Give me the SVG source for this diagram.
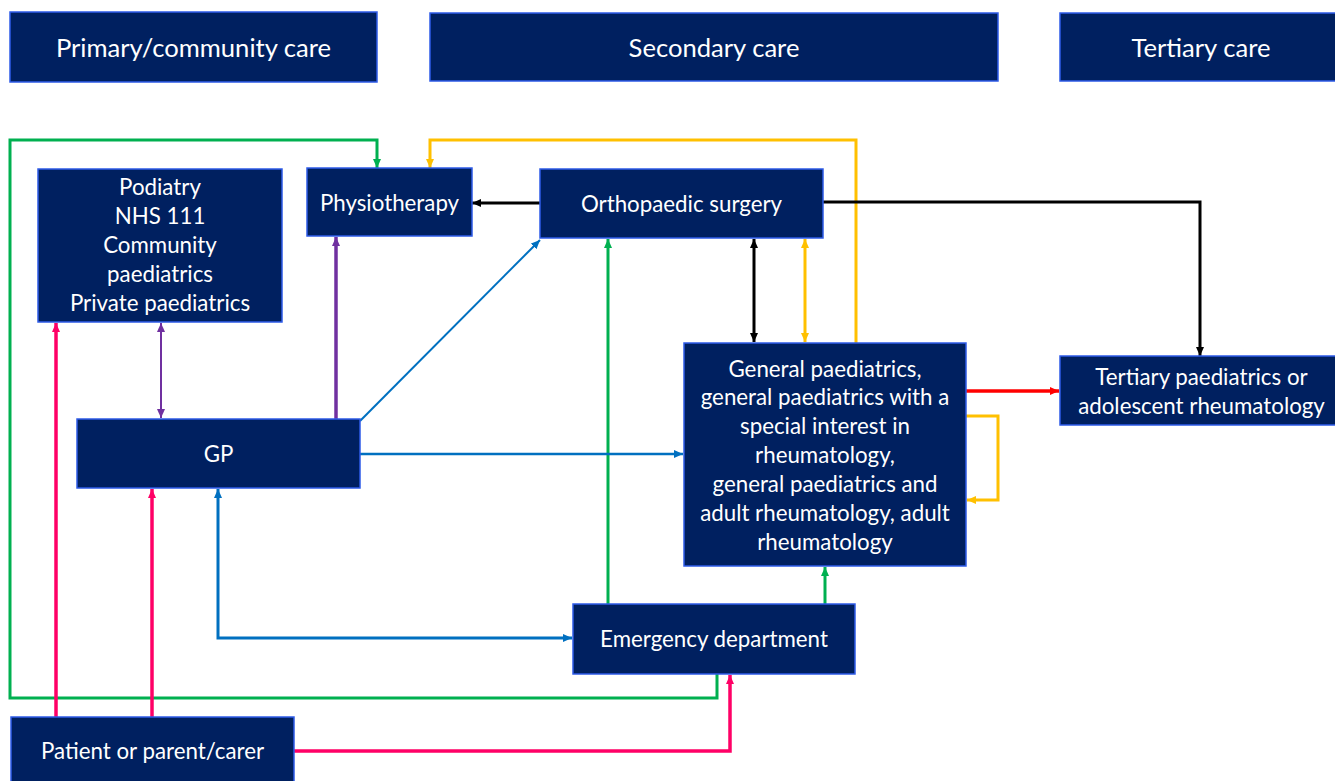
<svg xmlns="http://www.w3.org/2000/svg" width="1335" height="781" viewBox="0 0 1335 781">
<style>
.box{fill:#002060;stroke:#2E5BE8;stroke-width:1.5}
.t{font-family:Lato,"Liberation Sans",sans-serif;font-size:22.3px;fill:#FFFFFF;text-anchor:middle}
.h{font-size:25.6px}
.c{fill:none;stroke-linejoin:miter}
.g{stroke:#00B050;stroke-width:3}
.y{stroke:#FFC000;stroke-width:3}
.k{stroke:#000000;stroke-width:3}
.b{stroke:#0070C0}
.p{stroke:#7030A0}
.m{stroke:#FF0066;stroke-width:3.5}
.r{stroke:#FF0000;stroke-width:3.5}
</style>
<defs>
<marker id="ag" viewBox="0 0 9 8" refX="9" refY="4" markerWidth="9" markerHeight="8" markerUnits="userSpaceOnUse" orient="auto-start-reverse"><path d="M0,0L9,4L0,8z" fill="#00B050"/></marker>
<marker id="ay" viewBox="0 0 9 8" refX="9" refY="4" markerWidth="9" markerHeight="8" markerUnits="userSpaceOnUse" orient="auto-start-reverse"><path d="M0,0L9,4L0,8z" fill="#FFC000"/></marker>
<marker id="ak" viewBox="0 0 9 8" refX="9" refY="4" markerWidth="9" markerHeight="8" markerUnits="userSpaceOnUse" orient="auto-start-reverse"><path d="M0,0L9,4L0,8z" fill="#000000"/></marker>
<marker id="ab" viewBox="0 0 9 8" refX="9" refY="4" markerWidth="9" markerHeight="8" markerUnits="userSpaceOnUse" orient="auto-start-reverse"><path d="M0,0L9,4L0,8z" fill="#0070C0"/></marker>
<marker id="ap" viewBox="0 0 9 8" refX="9" refY="4" markerWidth="9" markerHeight="8" markerUnits="userSpaceOnUse" orient="auto-start-reverse"><path d="M0,0L9,4L0,8z" fill="#7030A0"/></marker>
<marker id="am" viewBox="0 0 9 8" refX="9" refY="4" markerWidth="9" markerHeight="8" markerUnits="userSpaceOnUse" orient="auto-start-reverse"><path d="M0,0L9,4L0,8z" fill="#FF0066"/></marker>
<marker id="ar" viewBox="0 0 9 8" refX="9" refY="4" markerWidth="9" markerHeight="8" markerUnits="userSpaceOnUse" orient="auto-start-reverse"><path d="M0,0L9,4L0,8z" fill="#FF0000"/></marker>
</defs>
<rect width="1335" height="781" fill="#FFFFFF"/>

<g id="connectors">
<path class="c g" d="M717,674 V698 H10 V140 H377 V168" marker-end="url(#ag)"/>
<path class="c y" d="M856,343 V140 H430 V168" marker-end="url(#ay)"/>
<path class="c k" d="M540,203 H472" marker-end="url(#ak)"/>
<path class="c k" d="M823,202 H1200 V356" marker-end="url(#ak)"/>
<path class="c k" d="M754,239 V342" marker-start="url(#ak)" marker-end="url(#ak)"/>
<path class="c y" d="M805,239 V342" marker-start="url(#ay)" marker-end="url(#ay)"/>
<path class="c g" d="M608,604 V239" marker-end="url(#ag)"/>
<path class="c g" d="M825,604 V567" marker-end="url(#ag)"/>
<path class="c r" d="M966,391 H1059" marker-end="url(#ar)"/>
<path class="c y" d="M966,416 H998 V500 H967" marker-end="url(#ay)"/>
<path class="c b" stroke-width="2.5" d="M360,454 H683" marker-end="url(#ab)"/>
<path class="c b" stroke-width="2" d="M360,421 L540,240" marker-end="url(#ab)"/>
<path class="c b" stroke-width="3" d="M572,638 H218 V489" marker-start="url(#ab)" marker-end="url(#ab)"/>
<path class="c p" stroke-width="2" d="M161,323 V418" marker-start="url(#ap)" marker-end="url(#ap)"/>
<path class="c p" stroke-width="3.5" d="M336,419 V237" marker-end="url(#ap)"/>
<path class="c m" d="M56,717 V323" marker-end="url(#am)"/>
<path class="c m" d="M152,717 V489" marker-end="url(#am)"/>
<path class="c m" d="M294,751 H730 V675" marker-end="url(#am)"/>
</g>

<g id="hdr-primary"><rect class="box" x="10" y="12" width="367" height="70"/><text class="t h" x="193.5" y="57">Primary/community care</text></g>
<g id="hdr-secondary"><rect class="box" x="430" y="13" width="568" height="68"/><text class="t h" x="714" y="57">Secondary care</text></g>
<g id="hdr-tertiary"><rect class="box" x="1060" y="13" width="283" height="68"/><text class="t h" x="1201" y="57">Tertiary care</text></g>

<g id="podiatry"><rect class="box" x="38" y="169" width="244" height="153"/>
<text class="t" x="160"><tspan x="160" y="195">Podiatry</tspan><tspan x="160" y="224">NHS 111</tspan><tspan x="160" y="253">Community</tspan><tspan x="160" y="282">paediatrics</tspan><tspan x="160" y="311">Private paediatrics</tspan></text></g>
<g id="physiotherapy"><rect class="box" x="307" y="168" width="165" height="68"/><text class="t" x="389.5" y="211">Physiotherapy</text></g>
<g id="orthopaedic"><rect class="box" x="540" y="169" width="283" height="69"/><text class="t" x="681.5" y="212">Orthopaedic surgery</text></g>
<g id="general-paeds"><rect class="box" x="684" y="343" width="282" height="223"/>
<text class="t" x="825"><tspan x="825" y="377">General paediatrics,</tspan><tspan x="825" y="405">general paediatrics with a</tspan><tspan x="825" y="434">special interest in</tspan><tspan x="825" y="463">rheumatology,</tspan><tspan x="825" y="492">general paediatrics and</tspan><tspan x="825" y="521">adult rheumatology, adult</tspan><tspan x="825" y="550">rheumatology</tspan></text></g>
<g id="tertiary-paeds"><rect class="box" x="1060" y="356" width="283" height="69"/>
<text class="t" x="1201.5"><tspan x="1201.5" y="385">Tertiary paediatrics or</tspan><tspan x="1201.5" y="414">adolescent rheumatology</tspan></text></g>
<g id="gp"><rect class="box" x="77" y="419" width="283" height="69"/><text class="t" x="218.5" y="462">GP</text></g>
<g id="emergency"><rect class="box" x="573" y="604" width="282" height="70"/><text class="t" x="714" y="647">Emergency department</text></g>
<g id="patient"><rect class="box" x="11" y="717" width="283" height="70"/><text class="t" x="152.5" y="759">Patient or parent/carer</text></g>
</svg>
